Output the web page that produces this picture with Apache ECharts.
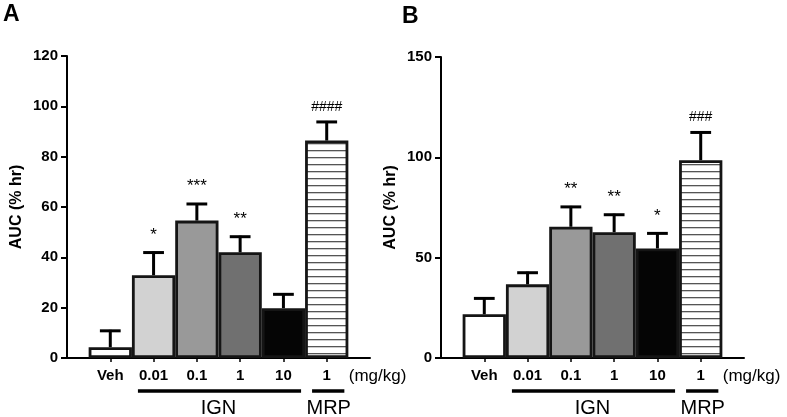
<!DOCTYPE html>
<html>
<head>
<meta charset="utf-8">
<script src="https://cdn.jsdelivr.net/npm/echarts@6/dist/echarts.min.js"></script>
<style>html,body{margin:0;padding:0;background:#fff;}#c{width:787px;height:417px;}</style>
</head>
<body>
<div id="c"></div>
<script>
// ---- data ----
const categories = ['', 'Veh', '0.01', '0.1', '1', '10', '1', ''];
const meansA = [4.3, 32.9, 54.6, 42.0, 19.8, 86.4];
const errsA  = [6.5, 9.0, 6.6, 6.2, 5.5, 7.4];
const sigA   = ['', '*', '***', '**', '', '####'];
const meansB = [21.8, 36.7, 65.4, 62.7, 54.6, 98.6];
const errsB  = [7.9, 5.8, 9.9, 8.7, 7.5, 13.8];
const sigB   = ['', '', '**', '**', '*', '###'];
const yTicksA = {min: 0, max: 120, interval: 20};
const yTicksB = {min: 0, max: 150, interval: 50};

// ---- styles ----
const FONT = '"Liberation Sans", Arial, sans-serif';
const hatch = document.createElement('canvas');
hatch.width = 10; hatch.height = 7;
(function(){ const g = hatch.getContext('2d'); g.fillStyle = '#fff'; g.fillRect(0,0,10,7); g.fillStyle = '#555'; g.fillRect(0,3,10,1.3); })();
const barColors = ['#ffffff', '#d2d2d2', '#999999', '#707070', '#050505', {image: hatch, repeat: 'repeat'}];

function barData(means) {
  const d = ['-'];
  means.forEach((v, i) => d.push({value: v, itemStyle: {color: barColors[i]}}));
  d.push('-');
  return d;
}
function errData(means, errs) {
  return means.map((v, i) => [i + 1, v, errs[i]]);
}
function errRender(sig) {
  return function (params, api) {
    const idx = api.value(0), m = api.value(1), e = api.value(2);
    const p0 = api.coord([idx, m]);
    const p1 = api.coord([idx, m + e]);
    const bw = api.size([1, 0])[0];
    const hc = bw * 0.24;
    const st = {stroke: '#000', lineWidth: 3};
    const children = [
      {type: 'line', shape: {x1: p0[0], y1: p0[1], x2: p1[0], y2: p1[1] - 1}, style: st},
      {type: 'line', shape: {x1: p1[0] - hc, y1: p1[1], x2: p1[0] + hc, y2: p1[1]}, style: st}
    ];
    const s = sig[params.dataIndex];
    if (s) {
      const isHash = s.charAt(0) === '#';
      children.push({type: 'text', style: {text: s, x: p1[0], y: p1[1] - (isHash ? 8 : 9), align: 'center', verticalAlign: 'bottom', font: (isHash ? '14px ' : '17px ') + FONT, fill: '#000'}});
    }
    return {type: 'group', children};
  };
}

function xAxis(gi) {
  return {
    type: 'category', gridIndex: gi, data: categories, boundaryGap: false,
    axisLine: {lineStyle: {color: '#000', width: 2}},
    axisTick: {length: 4, lineStyle: {color: '#000', width: 1.5}, interval: (i) => i > 0 && i < categories.length - 1},
    axisLabel: {interval: 0, margin: 10, fontFamily: FONT, fontSize: 15, fontWeight: 'bold', color: '#000'},
    splitLine: {show: false}
  };
}
function yAxis(gi, t) {
  return {
    type: 'value', gridIndex: gi, min: t.min, max: t.max, interval: t.interval,
    name: 'AUC (% hr)', nameLocation: 'middle', nameRotate: 90, nameGap: 42,
    nameTextStyle: {fontFamily: FONT, fontSize: 16, fontWeight: 'bold', color: '#000'},
    axisLine: {show: true, lineStyle: {color: '#000', width: 2}},
    axisTick: {show: true, length: 6, lineStyle: {color: '#000', width: 2}},
    axisLabel: {margin: 9, fontFamily: FONT, fontSize: 15, fontWeight: 'bold', color: '#000'},
    splitLine: {show: false}
  };
}
function bars(gi, means) {
  return {type: 'bar', xAxisIndex: gi, yAxisIndex: gi, data: barData(means), barWidth: '100%',
    itemStyle: {borderColor: '#151515', borderWidth: 2.8}, z: 2, silent: true, animation: false};
}
function errs(gi, means, e, sig) {
  return {type: 'custom', xAxisIndex: gi, yAxisIndex: gi, data: errData(means, e), renderItem: errRender(sig), z: 3, silent: true, animation: false};
}

const chart = echarts.init(document.getElementById('c'), null, {renderer: 'canvas'});
chart.setOption({
  animation: false,
  backgroundColor: '#fff',
  grid: [
    {left: 67, top: 56, width: 303, height: 302},
    {left: 441, top: 57, width: 303, height: 301}
  ],
  xAxis: [xAxis(0), xAxis(1)],
  yAxis: [yAxis(0, yTicksA), yAxis(1, yTicksB)],
  series: [bars(0, meansA), errs(0, meansA, errsA, sigA), bars(1, meansB), errs(1, meansB, errsB, sigB)]
});

// annotations positioned through the axes
const gfx = [
  {type: 'text', left: 3, top: 3, style: {text: 'A', font: 'bold 23px ' + FONT, fill: '#000'}},
  {type: 'text', left: 402, top: 5, style: {text: 'B', font: 'bold 23px ' + FONT, fill: '#000'}}
];
[0, 1].forEach(gi => {
  const px = i => chart.convertToPixel({gridIndex: gi}, [i, 0]);
  const bw = px(2)[0] - px(1)[0];
  const y0 = px(1)[1];
  const lineY = y0 + 33, textY = y0 + 50;
  const ln = (x1, x2) => ({type: 'line', shape: {x1, y1: lineY, x2, y2: lineY}, style: {stroke: '#000', lineWidth: 3.5}});
  gfx.push(ln(px(2)[0] - bw / 2 + 6, px(5)[0] + bw / 2 - 4));
  gfx.push(ln(px(6)[0] - bw / 2 + 7, px(6)[0] + bw / 2 - 4));
  gfx.push({type: 'text', x: (px(2)[0] + px(5)[0]) / 2, y: textY, style: {text: 'IGN', align: 'center', verticalAlign: 'middle', font: '20px ' + FONT, fill: '#000'}});
  gfx.push({type: 'text', x: px(6)[0] + 2, y: textY, style: {text: 'MRP', align: 'center', verticalAlign: 'middle', font: '20px ' + FONT, fill: '#000'}});
  gfx.push({type: 'text', x: px(6)[0] + 22, y: y0 + 18, style: {text: '(mg/kg)', align: 'left', verticalAlign: 'middle', font: '17px ' + FONT, fill: '#000'}});
});
chart.setOption({graphic: gfx});
</script>
</body>
</html>
